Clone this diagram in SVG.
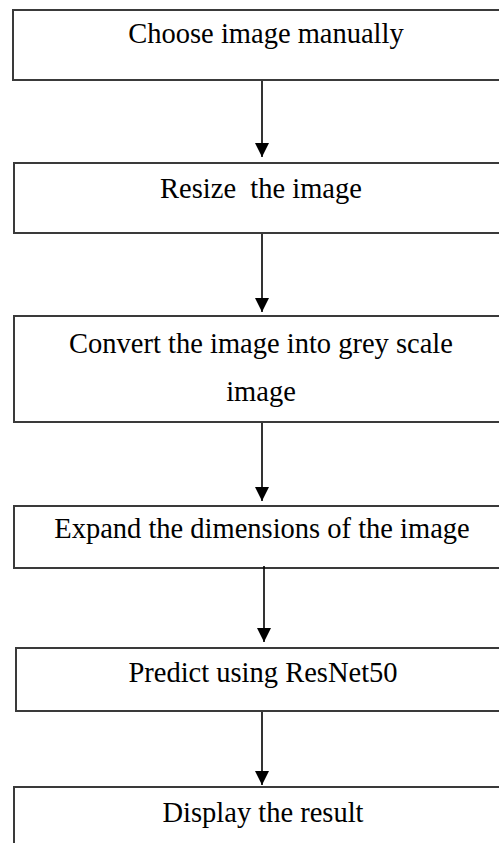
<svg xmlns="http://www.w3.org/2000/svg" width="499" height="843" viewBox="0 0 499 843">
<style>
.box{fill:#fff;stroke:#3a3a3a;stroke-width:2}
.lbl{font-family:"Liberation Serif","Times New Roman",serif;font-size:28.5px;fill:#000;text-anchor:middle;white-space:pre}
.conn{stroke:#000;stroke-width:1.6;fill:none}
</style>
<defs>
<marker id="ah" viewBox="0 0 14 14" refX="14" refY="7" markerWidth="14" markerHeight="14" markerUnits="userSpaceOnUse" orient="auto">
<path d="M0,0 L14,7 L0,14 z" fill="#000"/>
</marker>
</defs>
<rect width="499" height="843" fill="#fff"/>
<g id="n1"><rect class="box" x="13" y="10" width="510" height="70"/><text class="lbl" x="266" y="43">Choose image manually</text></g>
<g id="n2"><rect class="box" x="14" y="163" width="510" height="70"/><text class="lbl" x="261" y="198" xml:space="preserve">Resize  the image</text></g>
<g id="n3"><rect class="box" x="14" y="316" width="510" height="106"/><text class="lbl" x="261" y="353">Convert the image into grey scale</text><text class="lbl" x="261" y="401">image</text></g>
<g id="n4"><rect class="box" x="14" y="506" width="510" height="62"/><text class="lbl" x="262" y="538">Expand the dimensions of the image</text></g>
<g id="n5"><rect class="box" x="16" y="648" width="510" height="63"/><text class="lbl" x="263" y="682">Predict using ResNet50</text></g>
<g id="n6"><rect class="box" x="14" y="787" width="510" height="80"/><text class="lbl" x="263" y="822">Display the result</text></g>
<g id="connectors">
<line class="conn" x1="262" y1="81" x2="262" y2="157" marker-end="url(#ah)"/>
<line class="conn" x1="262" y1="234" x2="262" y2="312" marker-end="url(#ah)"/>
<line class="conn" x1="262" y1="423" x2="262" y2="501" marker-end="url(#ah)"/>
<line class="conn" x1="264" y1="566" x2="264" y2="642" marker-end="url(#ah)"/>
<line class="conn" x1="262" y1="712" x2="262" y2="785" marker-end="url(#ah)"/>
</g>
</svg>
